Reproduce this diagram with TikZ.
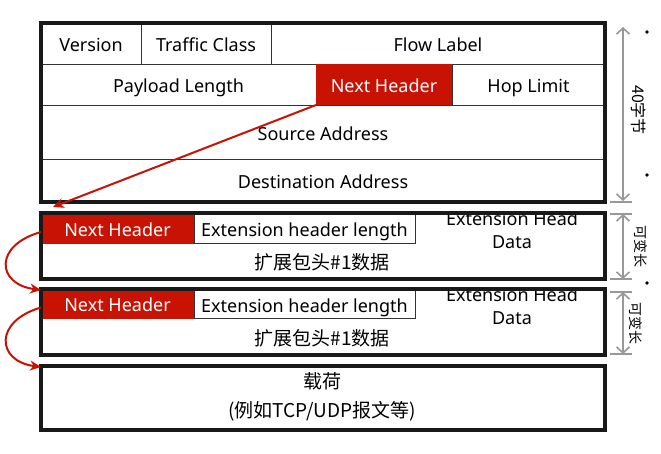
\documentclass[tikz,border=0pt]{standalone}
\usepackage{fontspec}
\setmainfont{Noto Sans}
\newfontfamily\cjk{Noto Sans CJK SC}
\usetikzlibrary{arrows.meta, positioning}
\definecolor{nhred}{RGB}{200,18,4}
\definecolor{dimgray}{RGB}{152,152,152}
\tikzset{cell/.style={rectangle,draw=black!80,line width=0.8pt,inner sep=0pt,outer sep=0pt,minimum height=41pt,text height=16pt,text depth=0pt,font=\fontsize{18}{21}\selectfont},
  txt/.style={inner sep=0pt,align=center,font=\fontsize{18}{23}\selectfont},
  cjktxt/.style={inner sep=0pt,align=center,font=\cjk\fontsize{19}{29}\selectfont},
  frame/.style={rectangle,draw=black!90,line width=3.2pt,inner sep=0pt,outer sep=0pt,anchor=north west},
  nhbox/.style={cell,fill=nhred,draw=nhred,text=white},
  link/.style={-{Stealth[length=11pt,width=10pt]},draw=nhred,line width=2pt},
  dim/.style={{Straight Barb[length=6pt,width=13pt]}-{Straight Barb[length=6pt,width=13pt]},draw=dimgray,line width=1.6pt},
  tick/.style={draw=dimgray,line width=1.6pt},
  dimlabel/.style={rotate=-90,inner sep=0pt,font=\cjk\fontsize{14}{16}\selectfont}}

\begin{document}
\begin{tikzpicture}[x=1pt,y=-1pt]
\useasboundingbox (0,0) rectangle (661,453);
% IPv6 fixed header
\node[cell,anchor=north west,minimum width=100pt] (ver) at (41,23) {Version};
\node[cell,right=0pt of ver,minimum width=130pt] (tc) {Traffic Class};
\node[cell,right=0pt of tc,minimum width=334pt] (fl) {Flow Label};
\node[cell,anchor=north west,minimum width=275pt] (pl) at (41,64) {Payload Length};
\node[nhbox,right=0pt of pl,minimum width=136pt] (nh) {Next Header};
\node[cell,right=0pt of nh,minimum width=153pt] (hl) {Hop Limit};
\node[cell,anchor=north west,minimum width=564pt,minimum height=54pt] (src) at (41,105) {Source Address};
\node[cell,anchor=north west,minimum width=564pt,minimum height=43pt] (dst) at (41,159) {Destination Address};
\node[frame,minimum width=564pt,minimum height=179pt] (hdr) at (41,23) {};

% extension header 1
\node[nhbox,anchor=north west,minimum width=153pt,minimum height=30pt] (nh1) at (41,213) {Next Header};
\node[cell,right=0pt of nh1,minimum width=221pt,minimum height=30pt] (len1) {Extension header length};
\begin{scope}
\clip (41,214) rectangle (605,279);
\node[txt] (data1) at (512,230) {Extension Head\\Data};
\end{scope}
\node[cjktxt] (body1) at (322,262) {扩展包头\#1数据};
\node[frame,minimum width=564pt,minimum height=66pt] (e1) at (41,213) {};

% extension header 2
\node[nhbox,anchor=north west,minimum width=153pt,minimum height=29pt] (nh2) at (41,289) {Next Header};
\node[cell,right=0pt of nh2,minimum width=221pt,minimum height=28pt,yshift=-1pt] (len2) {Extension header length};
\begin{scope}
\clip (41,290) rectangle (605,355);
\node[txt] (data2) at (512,306) {Extension Head\\Data};
\end{scope}
\node[cjktxt] (body2) at (322,338) {扩展包头\#1数据};
\node[frame,minimum width=564pt,minimum height=66pt] (e2) at (41,289) {};

% payload
\node[frame,minimum width=564pt,minimum height=64pt] (pay) at (41,366) {};
\node[cjktxt] (paytxt) at (322,397) {载荷\\(例如TCP/UDP报文等)};

% next header chain
\draw[link] (nh.south west) -- ([xshift=12pt,yshift=6pt]e1.north west);
\draw[link] ([yshift=-4pt]nh1.west) .. controls (-6,245) and (-4,284) .. ([yshift=-1pt]e2.north west);
\draw[link] ([yshift=-4pt]nh2.west) .. controls (-6,321) and (-4,361) .. ([yshift=-1pt]pay.north west);

% sizes
\coordinate (t1) at (623,27);
\coordinate (b1) at (623,201);
\draw[dim] (t1) -- (b1);
\draw[tick] (610,202) -- (632,202);
\node[dimlabel,font=\cjk\fontsize{16}{18}\selectfont] (l1) at (639,110) {40字节};

\coordinate (t2) at (623,214);
\coordinate (b2) at (623,279);
\draw[tick] (610,214) -- (632,214);
\draw[tick] (610,279) -- (632,279);
\draw[dim] (t2) -- (b2);
\node[dimlabel] (l2) at (641,246) {可变长};

\coordinate (t3) at (623,292);
\coordinate (b3) at (623,354);
\draw[tick] (610,292) -- (632,292);
\draw[tick] (610,354) -- (632,354);
\draw[dim] (t3) -- (b3);
\node[dimlabel] (l3) at (636,323) {可变长};

\fill (647,32) circle (1.8pt);
\fill (647,175) circle (1.8pt);
\fill (647,283) circle (1.8pt);
\end{tikzpicture}
\end{document}
